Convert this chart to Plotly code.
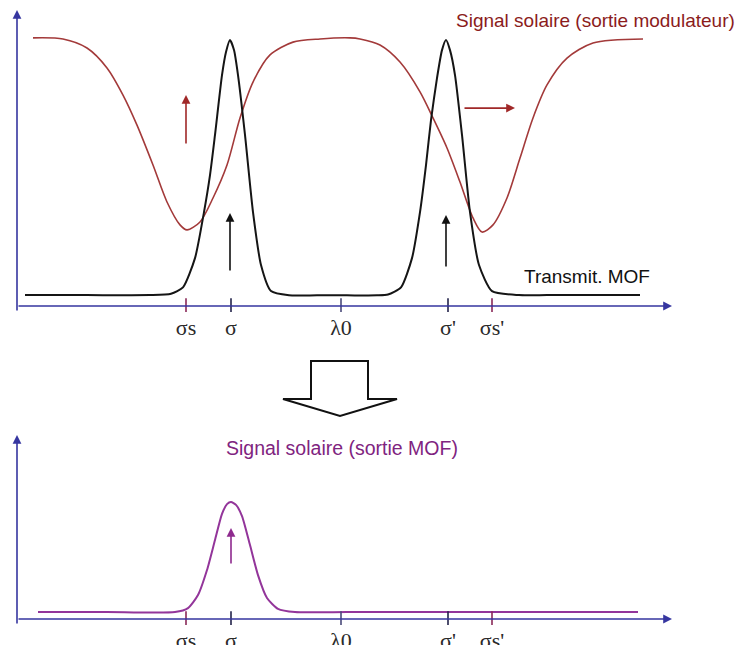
import plotly.graph_objects as go

# ---------------- data (wavelength in arbitrary units, intensity normalised) ----------------
tick_vals = [169, 214, 324, 431, 475]
tick_text = ["σs", "σ", "λ0", "σ'", "σs'"]
tick_colors = ["#8a2858", "#22224a", "#4a4a7a", "#22224a", "#8a2858"]

solar_x = [16, 46, 70, 90, 106, 120, 136, 150, 163, 170, 183, 196, 210, 223, 236, 253, 276, 303,
           333, 343, 363, 383, 403, 416, 430, 443, 456, 465, 476, 490, 503, 516, 530, 550, 576, 626]
solar_y = [1.008, 1.004, 0.970, 0.895, 0.793, 0.680, 0.530, 0.391, 0.305, 0.286, 0.316, 0.406,
           0.530, 0.707, 0.842, 0.944, 0.992, 1.004, 1.008, 1.004, 0.981, 0.917, 0.805, 0.707,
           0.594, 0.466, 0.331, 0.278, 0.305, 0.406, 0.556, 0.707, 0.831, 0.932, 0.989, 1.004]

mof_x = [8, 70, 133, 154, 166, 178, 187, 193, 198, 205, 209, 213, 217, 221, 228, 236, 244, 254, 272,
         300, 330, 360, 371, 384, 395, 403, 409, 414, 420, 425, 429, 433, 438, 445, 453, 462, 475,
         502, 530, 580, 623]
mof_y = [0.041, 0.041, 0.041, 0.046, 0.070, 0.180, 0.353, 0.492, 0.643, 0.868, 0.955, 1.0, 0.962,
         0.868, 0.643, 0.353, 0.154, 0.056, 0.040, 0.040, 0.040, 0.040, 0.043, 0.070, 0.180, 0.353,
         0.530, 0.699, 0.857, 0.962, 1.0, 0.962, 0.868, 0.643, 0.353, 0.154, 0.056, 0.041, 0.041,
         0.041, 0.041]

out_x = [21, 90, 158, 171, 181, 190, 198, 205, 210, 214, 219, 225, 233, 241, 250, 261, 278, 330,
         400, 500, 621]
out_y = [0.026, 0.026, 0.026, 0.041, 0.090, 0.184, 0.297, 0.395, 0.432, 0.440, 0.429, 0.387,
         0.278, 0.165, 0.079, 0.038, 0.026, 0.026, 0.026, 0.026, 0.026]

# arrows: (x_tail, y_tail, x_tip, y_tip, colour, panel)
arrows = [
    (169, 0.605, 169, 0.793, "#a02828", 1),
    (446, 0.744, 498, 0.744, "#a02828", 1),
    (213, 0.128, 213, 0.350, "#111111", 1),
    (429, 0.143, 429, 0.342, "#111111", 1),
    (214, 0.203, 214, 0.342, "#8e2a8e", 2),
]

RED = "#a33a3a"
RED_TXT = "#8b1c1c"
PURPLE = "#93359a"
PURPLE_TXT = "#7f2480"
AXIS = "#3636a0"

fig = go.Figure()

fig.add_trace(go.Scatter(x=solar_x, y=solar_y, mode="lines",
                         line=dict(color=RED, width=1.6, shape="spline", smoothing=0.8),
                         xaxis="x", yaxis="y", hoverinfo="skip"))
fig.add_trace(go.Scatter(x=mof_x, y=mof_y, mode="lines",
                         line=dict(color="#151515", width=2, shape="spline", smoothing=0.6),
                         xaxis="x", yaxis="y", hoverinfo="skip"))
fig.add_trace(go.Scatter(x=out_x, y=out_y, mode="lines",
                         line=dict(color=PURPLE, width=2, shape="spline", smoothing=0.6),
                         xaxis="x2", yaxis="y2", hoverinfo="skip"))

# tick marks crossing the axes
for xa, ya in (("x", "y"), ("x2", "y2")):
    fig.add_trace(go.Scatter(x=tick_vals, y=[0] * len(tick_vals), mode="markers",
                             marker=dict(symbol="line-ns", size=11,
                                         line=dict(color=tick_colors, width=1.6)),
                             xaxis=xa, yaxis=ya, hoverinfo="skip"))

annotations = []
# axes with arrow heads
axis_specs = [
    ("x", "y", 0, 0, 655, 0),
    ("x", "y", 0, -0.023, 0, 1.113),
    ("x2", "y2", 0, 0, 655, 0),
    ("x2", "y2", 0, -0.023, 0, 0.692),
]
for xr, yr, x0, y0, x1, y1 in axis_specs:
    annotations.append(dict(x=x1, y=y1, ax=x0, ay=y0, xref=xr, yref=yr, axref=xr, ayref=yr,
                            text="", showarrow=True, arrowhead=2, arrowsize=1.1,
                            arrowwidth=1.6, arrowcolor=AXIS))
for x0, y0, x1, y1, c, p in arrows:
    xr, yr = ("x", "y") if p == 1 else ("x2", "y2")
    annotations.append(dict(x=x1, y=y1, ax=x0, ay=y0, xref=xr, yref=yr, axref=xr, ayref=yr,
                            text="", showarrow=True, arrowhead=2, arrowsize=1.1,
                            arrowwidth=1.6, arrowcolor=c))

SANS = "Liberation Sans, Arial, sans-serif"
annotations += [
    dict(x=578, y=1.075, xref="x", yref="y", text="Signal solaire (sortie modulateur)",
         showarrow=False, font=dict(family=SANS, size=19, color=RED_TXT)),
    dict(x=570, y=0.111, xref="x", yref="y", text="Transmit. MOF",
         showarrow=False, font=dict(family=SANS, size=19, color="#111111")),
    dict(x=325, y=0.643, xref="x2", yref="y2", text="Signal solaire (sortie MOF)",
         showarrow=False, font=dict(family=SANS, size=19.5, color=PURPLE_TXT)),
]

# hollow block arrow between the two panels
hollow = "M 294 0.4403 L 351 0.4403 L 351 0.3814 L 380 0.3814 L 323 0.3550 L 266 0.3814 L 294 0.3814 Z"
shapes = [dict(type="path", path=hollow, xref="x", yref="paper",
               line=dict(color="#111111", width=2), fillcolor="white")]

SERIF = "Liberation Serif, Times New Roman, serif"
xcommon = dict(range=[-17, 724], showgrid=False, zeroline=False, showline=False,
               tickvals=tick_vals, ticktext=tick_text, ticks="", automargin=False,
               tickfont=dict(family=SERIF, size=22, color="#2a2a2a"), fixedrange=True)
fig.update_layout(
    width=741, height=645, margin=dict(l=0, r=0, t=0, b=0, pad=0, autoexpand=False),
    paper_bgcolor="white", plot_bgcolor="white", showlegend=False,
    xaxis=dict(domain=[0, 1], anchor="y", **xcommon),
    yaxis=dict(domain=[0.51628, 1], range=[-0.02256, 1.15038], visible=False,
               automargin=False, fixedrange=True),
    xaxis2=dict(domain=[0, 1], anchor="y2", ticklabelstandoff=0, **xcommon),
    yaxis2=dict(domain=[0.031, 0.3488], range=[-0.02256, 0.7481], visible=False,
                automargin=False, fixedrange=True),
    annotations=annotations, shapes=shapes,
)

fig.write_html("out.html", config={"displayModeBar": False})

# remove the browser's default page margin so the figure sits at the window's corner
with open("out.html", "r", encoding="utf-8") as f:
    html = f.read()
html = html.replace("<head>", "<head><style>html,body{margin:0;padding:0;overflow:hidden;}</style>", 1)
with open("out.html", "w", encoding="utf-8") as f:
    f.write(html)
